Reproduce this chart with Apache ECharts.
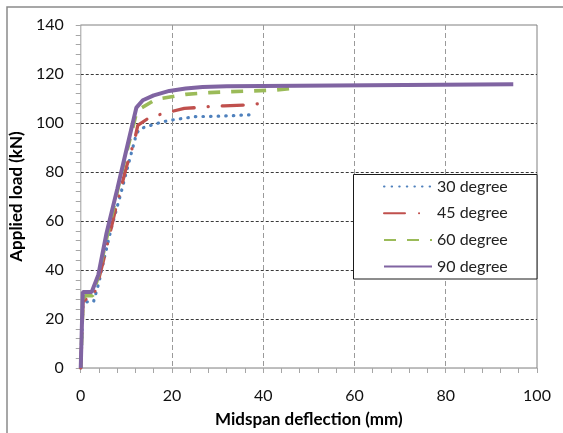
<!DOCTYPE html>
<html>
<head>
<meta charset="utf-8">
<script src="https://cdn.jsdelivr.net/npm/echarts@6/dist/echarts.min.js"></script>
<style>
html,body{margin:0;padding:0;background:#fff;}
#chart{width:563px;height:433px;}
</style>
</head>
<body>
<div id="chart"></div>
<script>
// ---- data ----
const seriesNames = ['30 degree', '45 degree', '60 degree', '90 degree'];

const defl30 = [0, 0.5, 1.2, 2.8, 4.0, 5.3, 6.7, 8.9, 10.7, 12.2, 12.9, 15.1, 18.0, 20.2, 25.2, 31.0, 37.4];
const load30 = [0, 26, 27, 27, 35, 46, 57, 72, 85, 95.5, 97.6, 98.9, 100.5, 101.3, 102.6, 102.8, 103.4];

const defl45 = [0, 0.5, 1.3, 2.4, 3.5, 5.0, 7.8, 10.0, 11.8, 12.5, 15.1, 17.6, 22.7, 25.6, 28.5, 31.4, 36.8, 39.6];
const load45 = [0, 27, 28.3, 28.3, 33, 44, 66, 82, 93, 99, 102.3, 103.6, 106, 106.3, 106.8, 107, 107.4, 108];

const defl60 = [0, 0.5, 1.0, 2.6, 3.8, 5.7, 9.0, 12.2, 12.9, 16.5, 23.0, 28.1, 33.0, 37.9, 43.0, 47.0];
const load60 = [0, 28, 29.5, 29.5, 37, 53, 80, 104, 105.7, 109.7, 111.7, 112.4, 112.8, 113.1, 113.5, 114.3];

const defl90 = [0, 0.45, 2.4, 3.85, 5.65, 8.0, 10.0, 12.2, 13.6, 16.0, 19.4, 23.0, 26.7, 32.0, 39.7, 47.5, 47.9, 94.8];
const load90 = [0, 31, 31, 38, 55, 73, 89, 106.3, 109.3, 111.3, 113.1, 114.1, 114.7, 115, 115.1, 115.2, 115.8, 115.8];

const xTicks = [0, 20, 40, 60, 80, 100];
const yTicks = [0, 20, 40, 60, 80, 100, 120, 140];

function pairs(xs, ys) { return xs.map((x, i) => [x, ys[i]]); }

const FONT = 'Lato';

const chart = echarts.init(document.getElementById('chart'), null, {renderer: 'canvas'});

const option = {
  backgroundColor: '#ffffff',
  animation: false,
  textStyle: {fontFamily: FONT},
  grid: {
    left: 77, right: 26, top: 25, bottom: 62,
    show: true, borderColor: '#808080', borderWidth: 1, backgroundColor: 'transparent'
  },
  xAxis: {
    type: 'value',
    min: xTicks[0], max: xTicks[xTicks.length - 1], interval: 20,
    name: 'Midspan deflection (mm)',
    nameLocation: 'middle', nameGap: 43,
    nameTextStyle: {fontFamily: FONT, fontSize: 17, fontWeight: 'bold', color: '#000'},
    axisLine: {show: true, lineStyle: {color: '#bcbcbc', width: 1}},
    axisTick: {show: true, inside: false, length: 5, lineStyle: {color: '#a6a6a6'}},
    minorTick: {show: true, splitNumber: 5, length: 5, lineStyle: {color: '#a6a6a6'}},
    axisLabel: {fontFamily: FONT, fontSize: 16, color: '#111', margin: 20},
    splitLine: {show: true, showMinLine: false, showMaxLine: false,
      lineStyle: {color: '#9a9a9a', type: [5, 3], width: 1}}
  },
  yAxis: {
    type: 'value',
    min: yTicks[0], max: yTicks[yTicks.length - 1], interval: 20,
    name: 'Applied load (kN)',
    nameLocation: 'middle', nameGap: 43,
    nameTextStyle: {fontFamily: FONT, fontSize: 17, fontWeight: 'bold', color: '#000'},
    axisLine: {show: true, lineStyle: {color: '#bcbcbc', width: 1}},
    axisTick: {show: true, inside: false, length: 5, lineStyle: {color: '#a6a6a6'}},
    minorTick: {show: true, splitNumber: 5, length: 5, lineStyle: {color: '#a6a6a6'}},
    axisLabel: {fontFamily: FONT, fontSize: 16, color: '#111', margin: 17},
    splitLine: {show: true, showMinLine: false, showMaxLine: false,
      lineStyle: {color: '#3a3a3a', type: [3, 2], width: 1}}
  },
  legend: {
    data: seriesNames,
    orient: 'vertical',
    left: 383, top: 177.5,
    padding: 0,
    itemWidth: 48, itemHeight: 14, itemGap: 8.7,
    itemStyle: {opacity: 0},
    textStyle: {fontFamily: FONT, fontSize: 16, color: '#222', lineHeight: 18},
    z: 10
  },
  graphic: [
    {
      type: 'rect', z: 8,
      shape: {x: 353.5, y: 174.5, width: 183.5, height: 104.5},
      style: {fill: '#ffffff', stroke: '#1a1a1a', lineWidth: 1}
    },
    {
      type: 'rect', z: 1,
      shape: {x: 7, y: 7, width: 600, height: 500},
      style: {fill: 'none', stroke: '#8a8a8a', lineWidth: 1.5},
      silent: true
    }
  ],
  series: [
    {
      name: seriesNames[0], type: 'line', data: pairs(defl30, load30),
      showSymbol: false, symbol: 'none', smooth: false,
      lineStyle: {color: '#4F81BD', width: 3.2, type: [0.5, 7.1], cap: 'round'},
      itemStyle: {color: '#4F81BD'}
    },
    {
      name: seriesNames[1], type: 'line', data: pairs(defl45, load45),
      showSymbol: false, symbol: 'none', smooth: false,
      lineStyle: {color: '#C0504D', width: 3.3, type: [21, 14, 0.1, 14], cap: 'round'},
      itemStyle: {color: '#C0504D'}
    },
    {
      name: seriesNames[2], type: 'line', data: pairs(defl60, load60),
      showSymbol: false, symbol: 'none', smooth: false,
      lineStyle: {color: '#9BBB59', width: 3.6, type: [12, 11], cap: 'butt'},
      itemStyle: {color: '#9BBB59'}
    },
    {
      name: seriesNames[3], type: 'line', data: pairs(defl90, load90),
      showSymbol: false, symbol: 'none', smooth: false,
      lineStyle: {color: '#8064A2', width: 4, type: 'solid'},
      itemStyle: {color: '#8064A2'}
    }
  ]
};
chart.setOption(option);
</script>
</body>
</html>
